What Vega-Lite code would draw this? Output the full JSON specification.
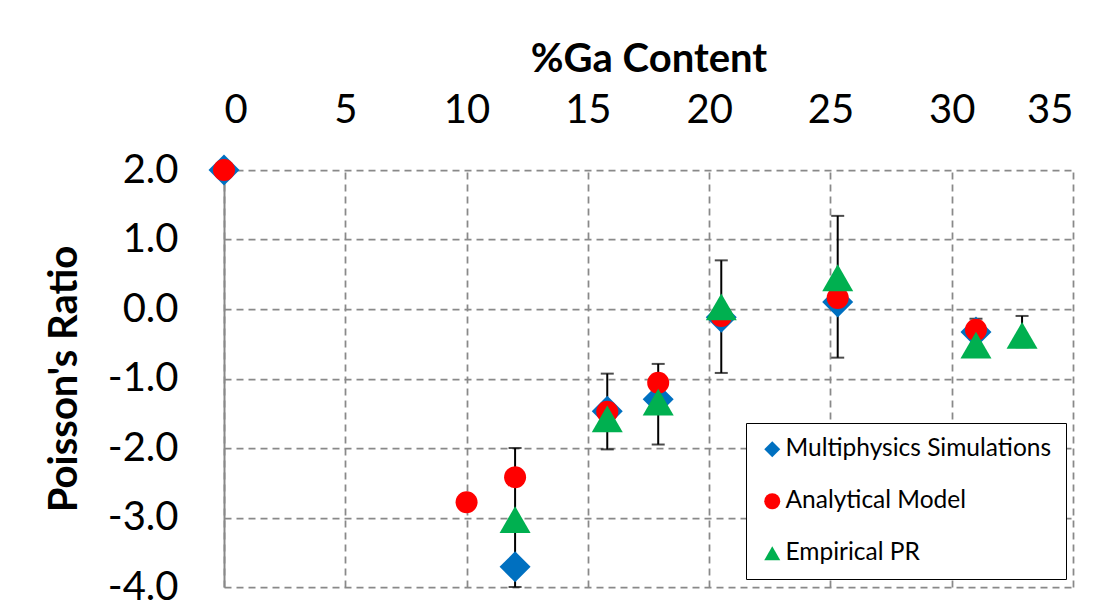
{
  "$schema": "https://vega.github.io/schema/vega-lite/v6.json",
  "autosize": {"type": "none"},
  "width": 849,
  "height": 417,
  "padding": {"left": 224, "top": 170, "right": 34, "bottom": 26},
  "background": "white",
  "config": {
    "font": "Lato",
    "view": {"stroke": null},
    "axis": {"labelColor": "black", "titleColor": "black", "labelFont": "Lato", "titleFont": "Lato"}
  },
  "datasets": {
    "points": [
      {"ga": 0, "pr": 2.0, "series": "Multiphysics Simulations"},
      {"ga": 12, "pr": -3.71, "series": "Multiphysics Simulations"},
      {"ga": 15.8, "pr": -1.47, "series": "Multiphysics Simulations"},
      {"ga": 17.9, "pr": -1.30, "series": "Multiphysics Simulations"},
      {"ga": 20.5, "pr": -0.12, "series": "Multiphysics Simulations"},
      {"ga": 25.3, "pr": 0.10, "series": "Multiphysics Simulations"},
      {"ga": 31, "pr": -0.33, "series": "Multiphysics Simulations"},
      {"ga": 0, "pr": 2.0, "series": "Analytical Model"},
      {"ga": 10, "pr": -2.78, "series": "Analytical Model"},
      {"ga": 12, "pr": -2.42, "series": "Analytical Model"},
      {"ga": 15.8, "pr": -1.48, "series": "Analytical Model"},
      {"ga": 17.9, "pr": -1.06, "series": "Analytical Model"},
      {"ga": 20.5, "pr": -0.10, "series": "Analytical Model"},
      {"ga": 25.3, "pr": 0.16, "series": "Analytical Model"},
      {"ga": 31, "pr": -0.30, "series": "Analytical Model"},
      {"ga": 12, "pr": -3.03, "series": "Empirical PR"},
      {"ga": 15.8, "pr": -1.58, "series": "Empirical PR"},
      {"ga": 17.9, "pr": -1.34, "series": "Empirical PR"},
      {"ga": 20.5, "pr": 0.03, "series": "Empirical PR"},
      {"ga": 25.3, "pr": 0.45, "series": "Empirical PR"},
      {"ga": 31, "pr": -0.52, "series": "Empirical PR"},
      {"ga": 32.9, "pr": -0.38, "series": "Empirical PR"}
    ],
    "errors": [
      {"ga": 12, "lo": -4.0, "hi": -2.0},
      {"ga": 15.8, "lo": -2.02, "hi": -0.93},
      {"ga": 17.9, "lo": -1.95, "hi": -0.79},
      {"ga": 20.5, "lo": -0.92, "hi": 0.70},
      {"ga": 25.3, "lo": -0.70, "hi": 1.34},
      {"ga": 31, "lo": -0.65, "hi": -0.14},
      {"ga": 32.9, "lo": -0.55, "hi": -0.10}
    ]
  },
  "layer": [
    {
      "data": {"name": "errors"},
      "mark": {"type": "rule", "color": "black", "strokeWidth": 2},
      "encoding": {
        "x": {
          "field": "ga", "type": "quantitative",
          "scale": {"domain": [0, 35], "nice": false, "zero": false},
          "axis": {
            "orient": "top",
            "title": "%Ga Content",
            "values": [0, 5, 10, 15, 20, 25, 30, 35],
            "domain": false,
            "ticks": false,
            "tickSize": 0,
            "labelFontSize": 40,
            "labelPadding": 40,
            "titleFontSize": 40,
            "titleFontWeight": "bold",
            "titlePadding": 11,
            "grid": true,
            "gridColor": "#898989",
            "gridDash": [7, 5],
            "gridWidth": 1.75,
            "gridOpacity": 1
          }
        },
        "y": {
          "field": "lo", "type": "quantitative",
          "scale": {"domain": [-4, 2], "nice": false, "zero": false},
          "axis": {
            "title": "Poisson's Ratio",
            "values": [-4, -3, -2, -1, 0, 1, 2],
            "labelExpr": "replace(format(datum.value, '.1f'), '\u2212', '-')",
            "domain": true,
            "domainColor": "#898989",
            "domainWidth": 2,
            "ticks": false,
            "tickSize": 0,
            "labelFontSize": 40,
            "labelPadding": 46,
            "titleFontSize": 40,
            "titleFontWeight": "bold",
            "titlePadding": 23,
            "grid": true,
            "gridColor": "#898989",
            "gridDash": [7, 5],
            "gridWidth": 1.75,
            "gridOpacity": 1
          }
        },
        "y2": {"field": "hi"}
      }
    },
    {
      "data": {"name": "errors"},
      "mark": {"type": "tick", "orient": "horizontal", "color": "black", "size": 13, "thickness": 2},
      "encoding": {
        "x": {"field": "ga", "type": "quantitative"},
        "y": {"field": "lo", "type": "quantitative"}
      }
    },
    {
      "data": {"name": "errors"},
      "mark": {"type": "tick", "orient": "horizontal", "color": "black", "size": 13, "thickness": 2},
      "encoding": {
        "x": {"field": "ga", "type": "quantitative"},
        "y": {"field": "hi", "type": "quantitative"}
      }
    },
    {
      "mark": {"type": "rule", "color": "#898989", "strokeWidth": 2},
      "encoding": {"y": {"datum": 0, "type": "quantitative"}}
    },
    {
      "data": {"name": "points"},
      "transform": [{"filter": "datum.series == 'Multiphysics Simulations'"}],
      "mark": {"type": "point", "filled": true, "opacity": 1, "strokeWidth": 0, "size": 961},
      "encoding": {
        "x": {"field": "ga", "type": "quantitative"},
        "y": {"field": "pr", "type": "quantitative"},
        "color": {
          "field": "series", "type": "nominal",
          "scale": {"domain": ["Multiphysics Simulations", "Analytical Model", "Empirical PR"], "range": ["#0070C0", "#FF0000", "#00B050"]},
          "legend": {
            "title": null,
            "orient": "none",
            "legendX": 522,
            "legendY": 253,
            "strokeColor": "black",
            "fillColor": "white",
            "padding": 14,
            "labelFont": "Lato",
            "labelFontSize": 24.5,
            "labelColor": "black",
            "labelOffset": 1,
            "labelLimit": 400,
            "rowPadding": 27,
            "symbolSize": 256,
            "symbolStrokeWidth": 0,
            "symbolOpacity": 1
          }
        },
        "shape": {
          "field": "series", "type": "nominal",
          "scale": {"domain": ["Multiphysics Simulations", "Analytical Model", "Empirical PR"], "range": ["diamond", "circle", "triangle-up"]}
        }
      }
    },
    {
      "data": {"name": "points"},
      "transform": [{"filter": "datum.series == 'Analytical Model'"}],
      "mark": {"type": "point", "filled": true, "opacity": 1, "strokeWidth": 0, "size": 484},
      "encoding": {
        "x": {"field": "ga", "type": "quantitative"},
        "y": {"field": "pr", "type": "quantitative"},
        "color": {"field": "series", "type": "nominal"},
        "shape": {"field": "series", "type": "nominal"}
      }
    },
    {
      "data": {"name": "points"},
      "transform": [{"filter": "datum.series == 'Empirical PR'"}],
      "mark": {"type": "point", "filled": true, "opacity": 1, "strokeWidth": 0, "size": 961},
      "encoding": {
        "x": {"field": "ga", "type": "quantitative"},
        "y": {"field": "pr", "type": "quantitative"},
        "color": {"field": "series", "type": "nominal"},
        "shape": {"field": "series", "type": "nominal"}
      }
    }
  ]
}
